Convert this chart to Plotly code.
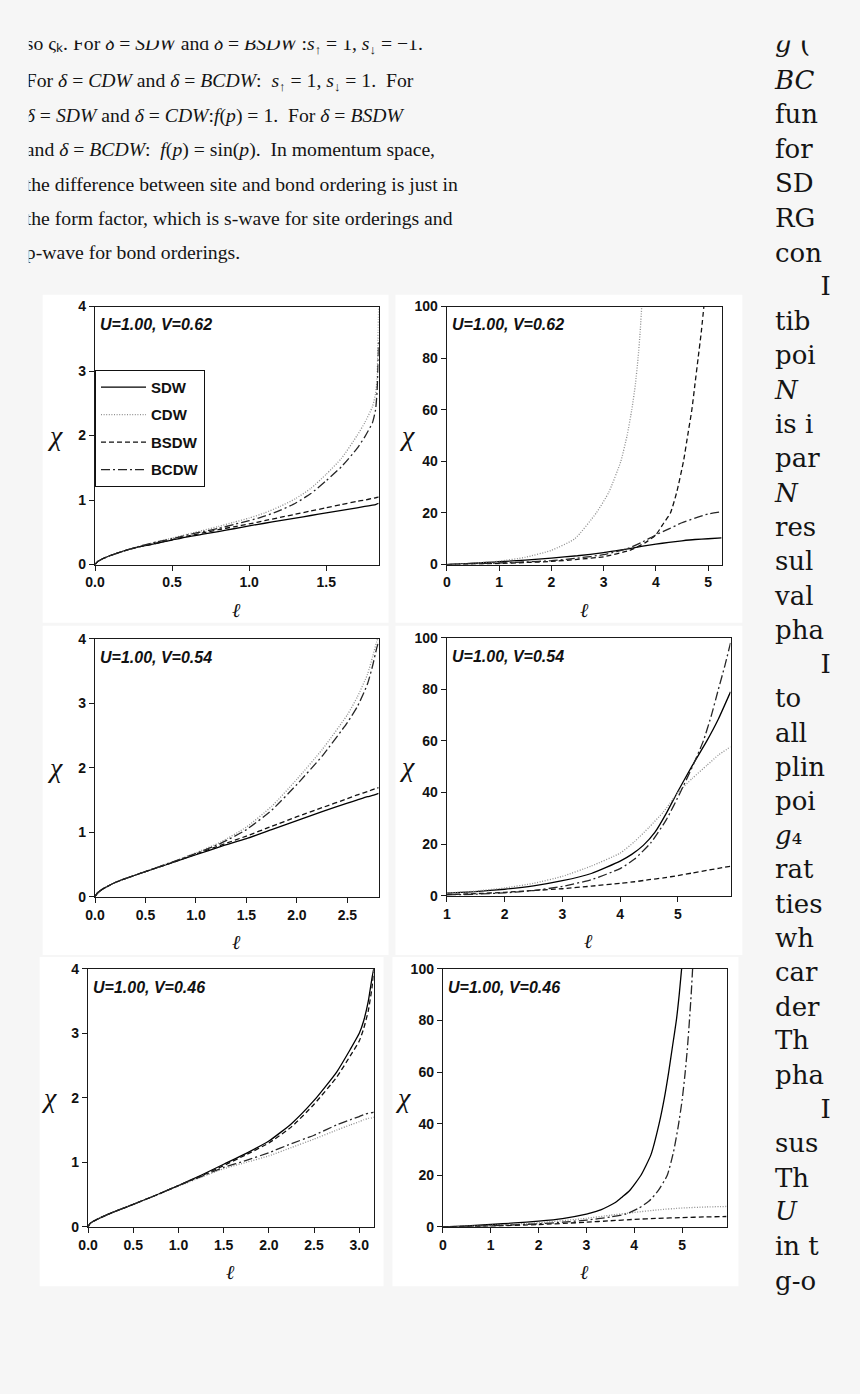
import plotly.graph_objects as go

W, H = 860, 1394

# ---------------- data ----------------
# Panel 1 : U=1.00, V=0.62, small scale
L1 = [0, 0.02, 0.05, 0.1, 0.2, 0.3, 0.4, 0.5, 0.6, 0.7, 0.8, 0.9, 1.0, 1.1, 1.2, 1.3,
      1.4, 1.5, 1.6, 1.7, 1.75, 1.8, 1.82, 1.83, 1.835, 1.84]
SDW1 = [0, 0.05, 0.09, 0.14, 0.22, 0.28, 0.33, 0.38, 0.43, 0.47, 0.51, 0.555, 0.60, 0.64,
        0.68, 0.72, 0.76, 0.80, 0.84, 0.88, 0.90, 0.92, 0.93, 0.94, 0.945, 0.95]
BSDW1 = [0, 0.05, 0.09, 0.14, 0.22, 0.28, 0.33, 0.385, 0.44, 0.49, 0.54, 0.585, 0.63, 0.68,
         0.73, 0.78, 0.83, 0.88, 0.93, 0.98, 1.00, 1.025, 1.035, 1.04, 1.045, 1.05]
CDW1 = [0, 0.05, 0.09, 0.14, 0.22, 0.29, 0.35, 0.41, 0.47, 0.53, 0.59, 0.655, 0.72, 0.80,
        0.90, 1.02, 1.18, 1.40, 1.65, 2.0, 2.2, 2.45, 2.65, 2.9, 3.4, 4.0]
BCDW1 = [0, 0.05, 0.09, 0.14, 0.22, 0.29, 0.35, 0.40, 0.46, 0.51, 0.56, 0.62, 0.68, 0.75,
         0.84, 0.95, 1.10, 1.30, 1.52, 1.80, 1.98, 2.2, 2.4, 2.7, 3.0, 3.5]

# Panel 2 : U=1.00, V=0.62, large scale
L2 = [0, 0.25, 0.5, 0.75, 1.0, 1.5, 2.0, 2.5, 3.0, 3.25, 3.5, 3.75, 4.0, 4.25, 4.5, 4.75, 5.0, 5.26]
SDW2 = [0, 0.25, 0.5, 0.8, 1.1, 1.7, 2.5, 3.4, 4.6, 5.4, 6.2, 7.1, 7.9, 8.6, 9.2, 9.7, 10.0, 10.3]
BCDW2 = [0, 0.15, 0.3, 0.45, 0.6, 1.0, 1.5, 2.5, 3.8, 5.0, 6.5, 8.8, 11.5, 13.8, 16.2, 18.0, 19.6, 20.5]
L2_CDW = [0, 0.5, 1.0, 1.5, 2.0, 2.45, 2.86, 3.1, 3.33, 3.45, 3.54, 3.61, 3.66, 3.70, 3.73]
CDW2 = [0, 0.5, 1.3, 2.8, 5.5, 10, 20, 28, 40, 50, 60, 70, 80, 90, 100]
L2_BSDW = [0, 0.5, 1, 1.5, 2, 2.5, 3, 3.5, 3.8, 4.0, 4.15, 4.28, 4.4, 4.53, 4.61, 4.69, 4.75,
           4.81, 4.87, 4.92]
BSDW2 = [0, 0.15, 0.4, 0.8, 1.2, 2.0, 3.0, 5.5, 8.5, 11.5, 16, 20, 28, 40, 50, 60, 70, 80, 90, 100]

# Panel 3 : U=1.00, V=0.54, small scale
L3 = [0, 0.02, 0.05, 0.1, 0.2, 0.3, 0.5, 0.75, 1.0, 1.25, 1.5, 1.75, 2.0, 2.25, 2.5, 2.6,
      2.7, 2.75, 2.79, 2.81]
SDW3 = [0, 0.05, 0.09, 0.14, 0.22, 0.28, 0.39, 0.52, 0.65, 0.78, 0.90, 1.04, 1.18, 1.32,
        1.45, 1.50, 1.55, 1.57, 1.59, 1.60]
BSDW3 = [0, 0.05, 0.09, 0.14, 0.22, 0.28, 0.39, 0.52, 0.66, 0.80, 0.94, 1.09, 1.24, 1.38,
         1.52, 1.58, 1.63, 1.66, 1.68, 1.69]
CDW3 = [0, 0.05, 0.09, 0.14, 0.22, 0.28, 0.39, 0.53, 0.68, 0.85, 1.08, 1.40, 1.82, 2.28,
        2.82, 3.1, 3.45, 3.72, 3.95, 4.05]
BCDW3 = [0, 0.05, 0.09, 0.14, 0.22, 0.28, 0.39, 0.53, 0.67, 0.83, 1.04, 1.34, 1.74, 2.18,
         2.70, 2.95, 3.30, 3.58, 3.85, 3.95]

# Panel 4 : U=1.00, V=0.54, large scale
L4 = [1.0, 1.5, 2.0, 2.5, 3.0, 3.5, 4.0, 4.25, 4.5, 4.75, 5.0, 5.25, 5.5, 5.7, 5.91]
CDW4 = [1.0, 1.8, 3.0, 4.8, 7.5, 11.5, 16.5, 21, 26.5, 32.5, 40, 45.5, 50.5, 54.5, 57.7]
BSDW4 = [0.4, 0.8, 1.3, 2.0, 2.7, 3.7, 4.8, 5.4, 6.2, 6.9, 7.8, 8.8, 9.8, 10.6, 11.4]
L4_SDW = [1.0, 1.5, 2.0, 2.5, 3.0, 3.5, 4.0, 4.2, 4.4, 4.6, 4.8, 5.0, 5.25, 5.5, 5.7, 5.91]
SDW4 = [1.0, 1.6, 2.5, 3.8, 5.8, 8.6, 13.4, 16.0, 19.5, 24.5, 32.0, 40.5, 50.5, 60, 68.5, 79]
L4_BCDW = [1.0, 1.5, 2.0, 2.5, 3.0, 3.5, 4.0, 4.25, 4.53, 4.8, 5.04, 5.25, 5.44, 5.58, 5.70,
           5.81, 5.91]
BCDW4 = [0.3, 0.6, 1.1, 2.0, 3.6, 6.2, 10.5, 14.2, 20.5, 29.5, 40, 50, 60, 70, 80, 89, 98]

# Panel 5 : U=1.00, V=0.46, small scale
L5 = [0, 0.02, 0.05, 0.15, 0.3, 0.5, 0.75, 1.0, 1.25, 1.5, 1.75, 2.0, 2.25, 2.5, 2.75, 2.9,
      3.0, 3.05, 3.1, 3.14, 3.16]
SDW5 = [0, 0.05, 0.08, 0.15, 0.24, 0.35, 0.49, 0.64, 0.80, 0.97, 1.14, 1.33, 1.60, 1.96,
        2.40, 2.75, 3.0, 3.2, 3.5, 3.85, 4.0]
BSDW5 = [0, 0.05, 0.08, 0.15, 0.24, 0.35, 0.49, 0.64, 0.79, 0.95, 1.12, 1.30, 1.55, 1.90,
         2.32, 2.65, 2.88, 3.08, 3.35, 3.7, 3.95]
BCDW5 = [0, 0.05, 0.08, 0.15, 0.24, 0.35, 0.49, 0.64, 0.78, 0.92, 1.03, 1.15, 1.29, 1.42,
         1.58, 1.66, 1.71, 1.74, 1.76, 1.77, 1.78]
CDW5 = [0, 0.05, 0.08, 0.15, 0.24, 0.35, 0.49, 0.63, 0.77, 0.90, 1.00, 1.10, 1.23, 1.36,
        1.50, 1.58, 1.63, 1.66, 1.68, 1.69, 1.70]

# Panel 6 : U=1.00, V=0.46, large scale
L6_SDW = [0, 0.5, 1, 1.5, 2, 2.5, 3, 3.15, 3.3, 3.45, 3.62, 3.75, 3.9, 4.14, 4.35, 4.52,
          4.63, 4.72, 4.8, 4.88, 4.94, 4.99]
SDW6 = [0, 0.4, 0.9, 1.5, 2.2, 3.2, 4.9, 5.7, 6.6, 7.9, 9.6, 11.6, 14, 20, 28, 40, 50, 60,
        70, 80, 90, 100]
L6_BCDW = [0, 1, 2, 2.5, 3, 3.5, 3.83, 4.1, 4.31, 4.5, 4.69, 4.82, 4.92, 5.0, 5.06, 5.11,
           5.15, 5.19, 5.22]
BCDW6 = [0, 0.4, 1.2, 1.8, 2.6, 3.8, 5, 7.3, 10, 14, 20, 29, 39, 49, 59, 69, 79, 90, 100]
L6 = [0, 1, 2, 3, 3.5, 4, 4.5, 5, 5.5, 5.93]
CDW6 = [0, 0.6, 1.6, 3.3, 4.5, 5.6, 6.6, 7.3, 7.7, 7.9]
BSDW6 = [0, 0.3, 0.9, 1.8, 2.35, 2.9, 3.3, 3.6, 3.85, 4.0]

SERIES = ["SDW", "CDW", "BSDW", "BCDW"]
PANEL_DATA = [
    {"SDW": (L1, SDW1), "CDW": (L1, CDW1), "BSDW": (L1, BSDW1), "BCDW": (L1, BCDW1)},
    {"SDW": (L2, SDW2), "CDW": (L2_CDW, CDW2), "BSDW": (L2_BSDW, BSDW2), "BCDW": (L2, BCDW2)},
    {"SDW": (L3, SDW3), "CDW": (L3, CDW3), "BSDW": (L3, BSDW3), "BCDW": (L3, BCDW3)},
    {"SDW": (L4_SDW, SDW4), "CDW": (L4, CDW4), "BSDW": (L4, BSDW4), "BCDW": (L4_BCDW, BCDW4)},
    {"SDW": (L5, SDW5), "CDW": (L5, CDW5), "BSDW": (L5, BSDW5), "BCDW": (L5, BCDW5)},
    {"SDW": (L6_SDW, SDW6), "CDW": (L6, CDW6), "BSDW": (L6, BSDW6), "BCDW": (L6_BCDW, BCDW6)},
]
PANEL_LABELS = ["U=1.00, V=0.62", "U=1.00, V=0.62", "U=1.00, V=0.54", "U=1.00, V=0.54",
                "U=1.00, V=0.46", "U=1.00, V=0.46"]
X_RANGES = [[0, 1.84], [0, 5.26], [0, 2.81], [1, 5.91], [0, 3.16], [0, 5.93]]
Y_RANGES = [[0, 4], [0, 100], [0, 4], [0, 100], [0, 4], [0, 100]]
X_TICKS = [[0, 0.5, 1.0, 1.5], [0, 1, 2, 3, 4, 5], [0, 0.5, 1.0, 1.5, 2.0, 2.5],
           [1, 2, 3, 4, 5], [0, 0.5, 1.0, 1.5, 2.0, 2.5, 3.0], [0, 1, 2, 3, 4, 5]]
X_TICKTEXT = [["0.0", "0.5", "1.0", "1.5"], ["0", "1", "2", "3", "4", "5"],
              ["0.0", "0.5", "1.0", "1.5", "2.0", "2.5"], ["1", "2", "3", "4", "5"],
              ["0.0", "0.5", "1.0", "1.5", "2.0", "2.5", "3.0"], ["0", "1", "2", "3", "4", "5"]]
Y_TICKS_SMALL = [0, 1, 2, 3, 4]
Y_TICKS_LARGE = [0, 20, 40, 60, 80, 100]

# ---------------- layout geometry (pixels) ----------------
PLOT_BOX = [(86, 373, 302, 563), (442, 720, 302, 563),
            (86, 373, 638, 899), (442, 729, 637, 898),
            (79, 368, 972, 1233), (438, 725, 972, 1233)]
PANEL_BG = [(33, 290, 383, 622), (390, 290, 741, 622),
            (33, 625, 383, 958), (390, 625, 741, 958),
            (30, 960, 378, 1293), (387, 960, 737, 1293)]

STYLE = {
    "SDW": dict(color="#000000", dash="solid", width=1.3),
    "CDW": dict(color="#8f8f8f", dash="1px,1.6px", width=1.3),
    "BSDW": dict(color="#111111", dash="5px,3px", width=1.3),
    "BCDW": dict(color="#262626", dash="9px,3px,2px,3px", width=1.3),
}

def px(x):
    return x / W

def py(y):
    return 1 - y / H

fig = go.Figure()
layout = dict(
    width=W, height=H, margin=dict(l=0, r=0, t=0, b=0),
    paper_bgcolor="#f6f6f6", plot_bgcolor="rgba(0,0,0,0)",
    showlegend=True, hovermode=False,
)
annotations = []
shapes = []

tickfont = dict(family="Liberation Sans, Arial, sans-serif", size=14, color="#111111", weight="bold")

for i in range(6):
    k = i + 1
    xa = "xaxis" if k == 1 else f"xaxis{k}"
    ya = "yaxis" if k == 1 else f"yaxis{k}"
    xr = "x" if k == 1 else f"x{k}"
    yr = "y" if k == 1 else f"y{k}"
    x0, x1, y0, y1 = PLOT_BOX[i]
    bx0, by0, bx1, by1 = PANEL_BG[i]
    shapes.append(dict(type="rect", xref="paper", yref="paper", layer="below",
                       x0=px(bx0), x1=px(bx1), y0=py(by1), y1=py(by0),
                       fillcolor="#ffffff", line=dict(width=0)))
    common = dict(showgrid=False, zeroline=False, showline=True, linecolor="#1a1a1a",
                  linewidth=1.3, mirror=True, ticks="outside", ticklen=5, tickwidth=1.2,
                  tickcolor="#1a1a1a", tickfont=tickfont, fixedrange=True)
    layout[xa] = dict(common, domain=[px(x0), px(x1)], range=X_RANGES[i], anchor=yr,
                      tickmode="array", tickvals=X_TICKS[i], ticktext=X_TICKTEXT[i])
    yt = Y_TICKS_SMALL if Y_RANGES[i][1] == 4 else Y_TICKS_LARGE
    layout[ya] = dict(common, domain=[py(y1), py(y0)], range=Y_RANGES[i], anchor=xr,
                      tickmode="array", tickvals=yt, ticktext=[str(v) for v in yt])
    for s in SERIES:
        lx, ly = PANEL_DATA[i][s]
        fig.add_trace(go.Scatter(
            x=lx, y=ly, mode="lines", name=s, xaxis=xr, yaxis=yr,
            line=dict(color=STYLE[s]["color"], dash=STYLE[s]["dash"], width=STYLE[s]["width"],
                      shape="spline", smoothing=0.5),
            showlegend=(i == 0), legendgroup=s, hoverinfo="skip"))
    wpx = x1 - x0
    hpx = y1 - y0
    annotations.append(dict(xref=f"{xr} domain", yref=f"{yr} domain", x=3 / wpx, y=1 - 8 / hpx,
                            xanchor="left", yanchor="top", showarrow=False,
                            text=PANEL_LABELS[i],
                            font=dict(family="Liberation Sans, Arial, sans-serif", size=16,
                                      color="#111111", weight="bold", style="italic")))
    annotations.append(dict(xref=f"{xr} domain", yref=f"{yr} domain", x=-40 / wpx, y=0.5,
                            xanchor="center", yanchor="middle", showarrow=False, text="χ",
                            font=dict(family="Liberation Serif, serif", size=28, color="#111111",
                                      style="italic")))
    annotations.append(dict(xref=f"{xr} domain", yref=f"{yr} domain", x=0.5, y=-46 / hpx,
                            xanchor="center", yanchor="middle", showarrow=False, text="ℓ",
                            font=dict(family="DejaVu Serif, serif", size=20, color="#111111",
                                      style="italic")))

layout["legend"] = dict(x=px(86), y=py(366), xanchor="left", yanchor="top",
                        bgcolor="#ffffff", bordercolor="#111111", borderwidth=1,
                        font=dict(family="Liberation Sans, Arial, sans-serif", size=15,
                                  color="#111111", weight="bold"),
                        tracegroupgap=5, itemwidth=45)

# ---------------- page text (clipped like the screenshot) ----------------
UP = '<span style="font-size:13px;baseline-shift:-4px">↑</span>'
DN = '<span style="font-size:13px;baseline-shift:-4px">↓</span>'
LEFT_TEXT = [
    f"so ςₖ. For <i>δ</i> = <i>SDW</i> and <i>δ</i> = <i>BSDW</i> :<i>s</i>{UP} = 1, <i>s</i>{DN} = −1.",
    f"For <i>δ</i> = <i>CDW</i> and <i>δ</i> = <i>BCDW</i>:  <i>s</i>{UP} = 1, <i>s</i>{DN} = 1.  For",
    "<i>δ</i> = <i>SDW</i> and <i>δ</i> = <i>CDW</i>:<i>f</i>(<i>p</i>) = 1.  For <i>δ</i> = <i>BSDW</i>",
    "and <i>δ</i> = <i>BCDW</i>:  <i>f</i>(<i>p</i>) = sin(<i>p</i>).  In momentum space,",
    "the difference between site and bond ordering is just in",
    "the form factor, which is s-wave for site orderings and",
    "p-wave for bond orderings.",
]
LEFT_Y = [38, 75, 110, 145, 180, 215, 249]
RIGHT_TEXT = ["<i>g</i> (", "<i>BC</i>", "fun", "for", "SD", "RG", "con", "I", "tib", "poi",
              "<i>N</i>", "is i", "par", "<i>N</i>", "res", "sul", "val", "pha", "I", "to",
              "all", "plin", "poi", "<i>g</i>₄", "rat", "ties", "wh", "car", "der",
              "Th", "pha", "I", "sus", "Th", "<i>U</i>", "in t", "g-o"]
RIGHT_Y = [38, 75, 110, 145, 180, 215, 250, 284, 319, 354, 389, 423, 458, 493, 528, 562, 597,
           632, 666, 701, 736, 770, 805, 839, 874, 909, 943, 978, 1013, 1047, 1082, 1116, 1151,
           1186, 1220, 1255, 1290]
RIGHT_X = [820 if t == "I" else 774 for t in RIGHT_TEXT]

fig.add_trace(go.Scatter(x=[16] * len(LEFT_TEXT), y=LEFT_Y, text=LEFT_TEXT, mode="text",
                         textposition="middle right", xaxis="x7", yaxis="y7", showlegend=False,
                         hoverinfo="skip", cliponaxis=True,
                         textfont=dict(family="Liberation Serif, serif", size=19.7, color="#141414")))
fig.add_trace(go.Scatter(x=RIGHT_X, y=RIGHT_Y, text=RIGHT_TEXT, mode="text",
                         textposition="middle right", xaxis="x7", yaxis="y7", showlegend=False,
                         hoverinfo="skip", cliponaxis=True,
                         textfont=dict(family="DejaVu Serif, serif", size=26, color="#141414")))
layout["xaxis7"] = dict(domain=[px(19), 1], range=[19, W], visible=False, anchor="y7",
                        fixedrange=True)
layout["yaxis7"] = dict(domain=[0, py(33)], range=[H, 33], visible=False, anchor="x7",
                        fixedrange=True)

layout["annotations"] = annotations
layout["shapes"] = shapes
fig.update_layout(**layout)
fig.write_html("out.html")
